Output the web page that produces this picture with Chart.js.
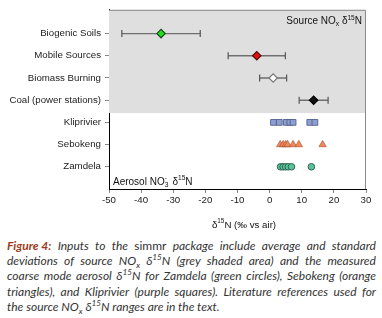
<!DOCTYPE html>
<html>
<head>
<meta charset="utf-8">
<script src="https://cdn.jsdelivr.net/npm/chart.js@4.4.1/dist/chart.umd.min.js"></script>
<style>
  html, body { margin: 0; padding: 0; background: #fff; width: 382px; height: 318px; overflow: hidden; }
  #wrap { position: relative; width: 382px; height: 232px; }
  #cap { position: absolute; left: 7px; top: 238px; width: 369px; font-family: Lato, "Open Sans", sans-serif; font-style: italic; font-size: 12px; line-height: 15.2px; color: #333; }
  #cap .l { white-space: nowrap; display: flex; justify-content: space-between; }
  #cap .last { text-align: left; }
  #cap b { color: #9c3b1b; font-weight: bold; }
  #cap .up { font-style: normal; }
  #cap sub, #cap sup { font-size: 0.68em; line-height: 0; }
</style>
</head>
<body>
<div id="wrap"><canvas id="c" width="382" height="232"></canvas></div>
<div id="cap"></div>
<script>
// ---------- data ----------
const categories = ['Biogenic Soils', 'Mobile Sources', 'Biomass Burning', 'Coal (power stations)', 'Kliprivier', 'Sebokeng', 'Zamdela'];
const sourceMeans = [-33.8, -4.0, 1.1, 13.7];
const sourceSDs = [12.2, 8.9, 4.2, 4.5];
const kliprivier = [1.2, 3.0, 5.2, 6.3, 7.3, 12.5, 14.1];
const sebokeng = [3.3, 4.2, 5.0, 5.6, 7.3, 9.1, 16.5];
const zamdela = [3.4, 4.2, 5.0, 5.8, 6.8, 13.0];
const xTickValues = [-50, -40, -30, -20, -10, 0, 10, 20, 30];

// ---------- styles ----------
const sourceFill = ['#22dd22', '#e01010', '#ffffff', '#111111'];
const sourceBorder = ['#1a4a1a', '#5a0a0a', '#777777', '#000000'];
const FONT = '"Liberation Sans", Arial, sans-serif';

// caption (real text)
const capLines = [
  '<b>Figure 4:</b> Inputs to the <span class="up">simmr</span> package include average and standard',
  'deviations of source NO<sub>x</sub> δ<sup>15</sup>N (grey shaded area) and the measured',
  'coarse mode aerosol δ<sup>15</sup>N for Zamdela (green circles), Sebokeng (orange',
  'triangles), and Kliprivier (purple squares). Literature references used for',
  'the source NO<sub>x</sub> δ<sup>15</sup>N ranges are in the text.'
];
document.getElementById('cap').innerHTML = capLines.map((l, i) => {
  if (i === capLines.length - 1) return '<div class="last">' + l + '</div>';
  const words = l.match(/(<b>[^<]*<\/b>|<span[^>]*>[^<]*<\/span>|[^\s<]*(?:<su[bp]>[^<]*<\/su[bp]>[^\s<]*)*)/g).filter(w => w && w.trim());
  return '<div class="l">' + words.map(w => '<span>' + w + '</span>').join('') + '</div>';
}).join('');

// ---------- datasets ----------
const datasets = [];
sourceMeans.forEach((m, i) => {
  datasets.push({
    label: categories[i],
    data: [{ x: m, y: i }],
    pointStyle: 'rectRot',
    pointRadius: 4.2,
    backgroundColor: sourceFill[i],
    borderColor: sourceBorder[i],
    pointBorderWidth: 1.2,
    order: 0
  });
  datasets.push({
    label: categories[i] + ' sd',
    data: [{ x: m - sourceSDs[i], y: i }, { x: m + sourceSDs[i], y: i }],
    showLine: true,
    borderColor: '#707070',
    borderWidth: 1.4,
    pointStyle: 'line',
    rotation: 90,
    pointRadius: 3.5,
    pointBorderColor: '#555',
    pointBorderWidth: 1.2,
    order: 1
  });
});
datasets.push({
  label: 'Kliprivier',
  data: kliprivier.map(v => ({ x: v, y: 4 })),
  pointStyle: 'rect', pointRadius: 4.1,
  backgroundColor: '#8c9fd0', borderColor: '#55628f', pointBorderWidth: 0.9, order: 0
});
datasets.push({
  label: 'Sebokeng',
  data: sebokeng.map(v => ({ x: v, y: 5 })),
  pointStyle: 'triangle', pointRadius: 4.2,
  backgroundColor: '#f2875a', borderColor: '#a8583a', pointBorderWidth: 0.7, order: 0
});
datasets.push({
  label: 'Zamdela',
  data: zamdela.map(v => ({ x: v, y: 6 })),
  pointStyle: 'circle', pointRadius: 3.3,
  backgroundColor: '#5cc29c', borderColor: '#2c6650', pointBorderWidth: 1, order: 0
});

// ---------- helpers ----------
function drawRich(ctx, parts, x, y, align, size) {
  const scaled = m => (m ? size * 0.66 : size);
  const widths = parts.map(p => { ctx.font = scaled(p[1]) + 'px ' + FONT; return p[2] === false ? 0 : ctx.measureText(p[0]).width; });
  const total = widths.reduce((a, b) => a + b, 0);
  let cx = align === 'right' ? x - total : align === 'center' ? x - total / 2 : x;
  ctx.textAlign = 'left';
  ctx.textBaseline = 'alphabetic';
  parts.forEach((p, i) => {
    ctx.font = scaled(p[1]) + 'px ' + FONT;
    const dy = p[1] === 'sup' ? -size * 0.42 : p[1] === 'sub' ? size * 0.22 : 0;
    ctx.fillText(p[0], cx, y + dy);
    cx += widths[i];
  });
}

const decor = {
  id: 'decor',
  beforeDatasetsDraw(chart) {
    const { ctx, chartArea: a, scales } = chart;
    const yb = scales.y.getPixelForValue(3.58);
    ctx.save();
    ctx.fillStyle = '#dfdfdf';
    ctx.fillRect(a.left, a.top, a.right - a.left, yb - a.top);
    ctx.strokeStyle = '#8a8a8a';
    ctx.lineWidth = 1;
    ctx.beginPath();
    ctx.moveTo(a.left, a.top + 0.5); ctx.lineTo(a.right - 0.5, a.top + 0.5); ctx.lineTo(a.right - 0.5, a.bottom);
    ctx.stroke();
    ctx.restore();
  },
  afterDraw(chart) {
    const { ctx, chartArea: a } = chart;
    ctx.save();
    ctx.fillStyle = '#111';
    drawRich(ctx, [['Source NO', null], ['x', 'sub'], [' δ', null], ['15', 'sup'], ['N', null]], a.right - 4, 24, 'right', 10);
    drawRich(ctx, [['Aerosol NO', null], ['3', 'sub', false], ['-', 'sup'], ['  δ', null], ['15', 'sup'], ['N', null]], a.left + 4, 184.5, 'left', 10);
    drawRich(ctx, [['δ', null], ['15', 'sup'], ['N (‰ vs air)', null]], 244, 227.5, 'center', 9.7);
    ctx.restore();
  }
};

new Chart(document.getElementById('c'), {
  type: 'scatter',
  data: { datasets },
  plugins: [decor],
  options: {
    responsive: false,
    animation: false,
    events: [],
    layout: { padding: { top: 8, right: 16, left: 0, bottom: 0 } },
    plugins: { legend: { display: false }, tooltip: { enabled: false } },
    scales: {
      x: {
        type: 'linear', min: -50, max: 30,
        afterBuildTicks: s => { s.ticks = xTickValues.map(v => ({ value: v })); },
        afterFit: s => { s.height = 232 - 189; },
        border: { color: '#000', width: 1 },
        grid: { drawOnChartArea: false, drawTicks: true, tickLength: 4, color: '#888' },
        ticks: { color: '#222', padding: 2, font: { family: FONT, size: 9.7 }, maxRotation: 0 }
      },
      y: {
        type: 'linear', reverse: true, min: -1.07, max: 7.0,
        afterBuildTicks: s => { s.ticks = categories.map((c, i) => ({ value: i })); },
        afterFit: s => { s.width = 109; },
        border: { color: '#000', width: 1 },
        grid: { drawOnChartArea: false, drawTicks: true, tickLength: 4, color: '#888' },
        ticks: { color: '#222', padding: 4, font: { family: FONT, size: 9.7 }, callback: v => categories[v] }
      }
    }
  }
});
</script>
</body>
</html>
